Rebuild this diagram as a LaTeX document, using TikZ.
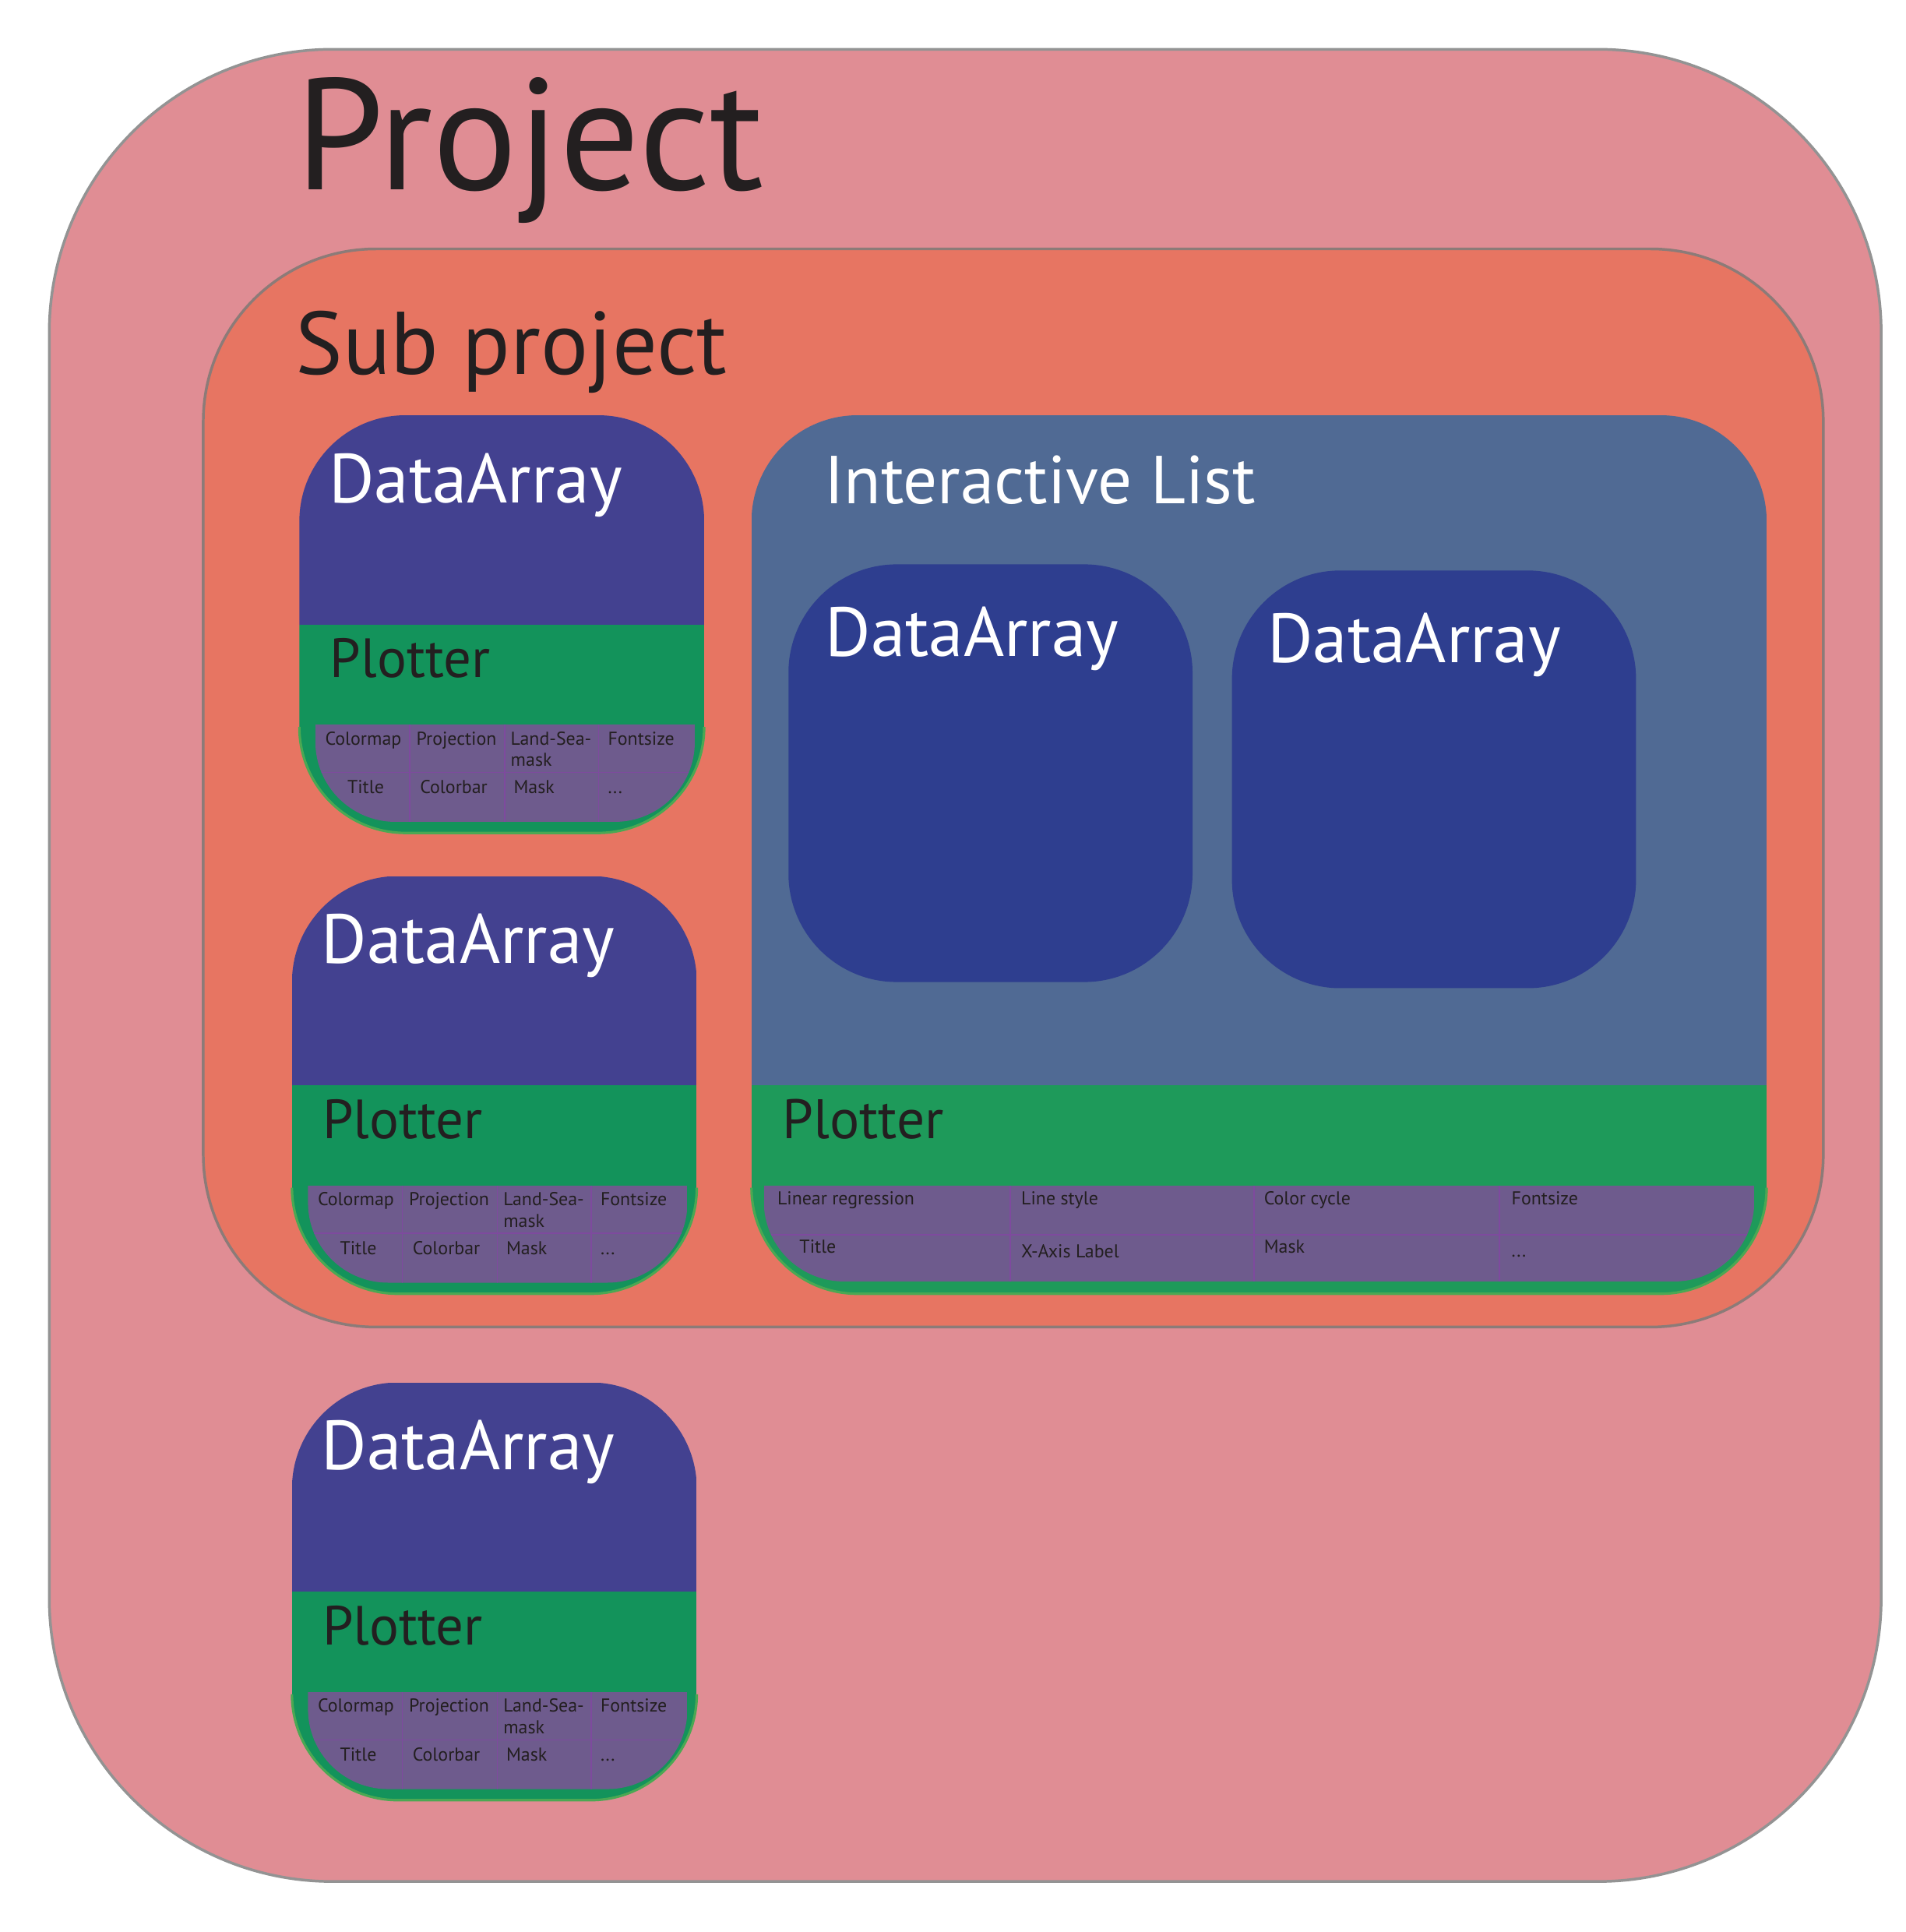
\documentclass[tikz,border=0pt]{standalone}
\usepackage{fontspec}
\setmainfont{PT Sans}
\usepackage{graphicx}
\definecolor{projfill}{HTML}{E08D94}
\definecolor{projdraw}{HTML}{939393}
\definecolor{subfill}{HTML}{E77562}
\definecolor{subdraw}{HTML}{8C7B78}
\definecolor{dablue}{HTML}{434190}
\definecolor{dagreen}{HTML}{13935B}
\definecolor{tblpurple}{HTML}{6E5B8D}
\definecolor{tblline}{HTML}{7E4A9E}
\definecolor{ilblue}{HTML}{506A94}
\definecolor{ilgreen}{HTML}{1E9A5A}
\definecolor{innerda}{HTML}{2E3E8F}
\definecolor{textdark}{HTML}{231F20}
\definecolor{greenedge}{HTML}{4BA853}
\tikzset{
  lbl/.style={anchor=base west, inner sep=0pt, outer sep=0pt},
  darklbl/.style={lbl, text=textdark},
  whitelbl/.style={lbl, text=white},
  tcell/.style={lbl, text=textdark, font=\fontsize{4.3pt}{5pt}\selectfont},
  tline/.style={draw=tblline, line width=0.1mm},
}
\newcommand\dabox[3]{%
\begin{scope}[shift={(#2,#3)}]
  \begin{scope}
    \clip[rounded corners=8.6mm] (0,0) rectangle (328.6,339);
    \fill[dablue] (0,0) rectangle (328.6,170);
    \fill[dagreen] (0,170) rectangle (328.6,339);
  \end{scope}
  \draw[greenedge, line width=0.2mm, rounded corners=8.6mm] (0,253) -- (0,339) -- (328.6,339) -- (328.6,253);
  \begin{scope}
    \clip (13,251) rectangle (321,330);
    \clip[rounded corners=6.5mm] (13,150) rectangle (321,330);
    \fill[tblpurple] (13,251) rectangle (321,330);
    \draw[tline] (0,290) -- (340,290);
    \draw[tline] (89.5,251) -- (89.5,340);
    \draw[tline] (166.6,251) -- (166.6,340);
    \draw[tline] (243,251) -- (243,340);
  \end{scope}
  \node[whitelbl] (#1da) at (24,71) {\resizebox{23.8mm}{!}{DataArray}};
  \node[darklbl] (#1pl) at (25,213) {\resizebox{13mm}{!}{Plotter}};
  \node[tcell] (#1c1) at (21,267.5) {Colormap};
  \node[tcell] (#1c2) at (95,267.5) {Projection};
  \node[tcell] (#1c3) at (171.6,267.5) {Land-Sea-};
  \node[tcell] (#1c3b) at (171.6,285) {mask};
  \node[tcell] (#1c4) at (250.5,267.5) {Fontsize};
  \node[tcell] (#1d1) at (39,307) {Title};
  \node[tcell] (#1d2) at (98,307) {Colorbar};
  \node[tcell] (#1d3) at (174,307) {Mask};
  \node[tcell] (#1d4) at (250.5,307) {...};
\end{scope}}
\begin{document}
\begin{tikzpicture}[x=0.1mm,y=-0.1mm]
\useasboundingbox (0,0) rectangle (1547,1568);
\fill[white] (0,0) rectangle (1547,1568);
% Project
\draw[fill=projfill, draw=projdraw, line width=0.22mm, rounded corners=23mm] (40,40) rectangle (1527,1527);
\node[darklbl] (tproj) at (240,154) {\resizebox{38mm}{!}{Project}};
% Sub project
\draw[fill=subfill, draw=subdraw, line width=0.22mm, rounded corners=14mm] (165,202) rectangle (1480,1077);
\node[darklbl] (tsub) at (240,304) {\resizebox{35mm}{!}{Sub project}};
% DataArray boxes
\dabox{a}{243}{337}
\dabox{b}{237}{711}
\dabox{c}{237}{1122}
% Interactive list
\begin{scope}[shift={(610,337)}]
  \begin{scope}
    \clip[rounded corners=8.6mm] (0,0) rectangle (824,713);
    \fill[ilblue] (0,0) rectangle (824,544);
    \fill[ilgreen] (0,544) rectangle (824,713);
  \end{scope}
  \draw[greenedge, line width=0.2mm, rounded corners=8.6mm] (0,627) -- (0,713) -- (824,713) -- (824,627);
  \begin{scope}
    \clip (10,625) rectangle (814,703);
    \clip[rounded corners=6.5mm] (10,500) rectangle (814,703);
    \fill[tblpurple] (10,625) rectangle (814,703);
    \draw[tline] (0,665) -- (830,665);
    \draw[tline] (210,625) -- (210,710);
    \draw[tline] (408,625) -- (408,710);
    \draw[tline] (607,625) -- (607,710);
  \end{scope}
  \node[whitelbl] (til) at (59,71.5) {\resizebox{35mm}{!}{Interactive List}};
  \node[darklbl] (ilpl) at (25,587) {\resizebox{13.1mm}{!}{Plotter}};
  \node[tcell] (ile1) at (21,641) {Linear regression};
  \node[tcell] (ile2) at (219,641) {Line style};
  \node[tcell] (ile3) at (416,641) {Color cycle};
  \node[tcell] (ile4) at (617,641) {Fontsize};
  \node[tcell] (ilf1) at (39,680) {Title};
  \node[tcell] (ilf2) at (219,684) {X-Axis Label};
  \node[tcell] (ilf3) at (416,680) {Mask};
  \node[tcell] (ilf4) at (617,683) {...};
\end{scope}
% inner DataArrays
\fill[innerda, rounded corners=8.8mm] (640,458) rectangle (968,797);
\node[whitelbl] (ida1) at (670,532.4) {\resizebox{23.8mm}{!}{DataArray}};
\fill[innerda, rounded corners=8.8mm] (1000,463) rectangle (1328,802);
\node[whitelbl] (ida2) at (1029,538) {\resizebox{23.8mm}{!}{DataArray}};
\end{tikzpicture}
\end{document}
